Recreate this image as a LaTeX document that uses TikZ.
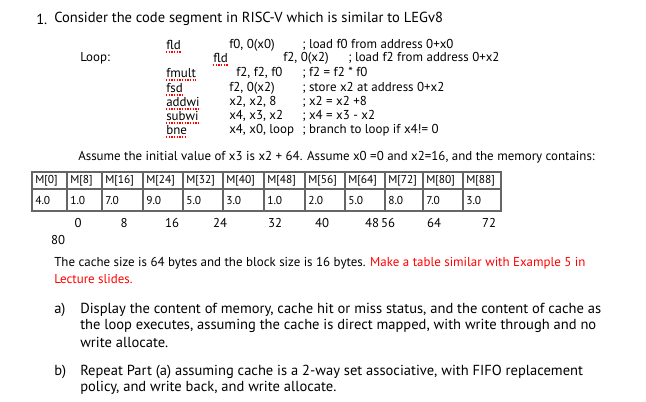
\documentclass[tikz,border=0pt]{standalone}
\usepackage{fontspec}
\setmainfont{PT Sans}
\begin{document}
\begin{tikzpicture}[x=0.75pt,y=-0.75pt,
  t/.style={anchor=west,inner sep=0pt,font=\fontsize{10.9pt}{12pt}\selectfont},
  k/.style={anchor=west,inner sep=0pt,font=\fontsize{9.7pt}{11pt}\selectfont},
  tt/.style={anchor=west,inner sep=0pt,font=\fontsize{8.6pt}{10pt}\selectfont},
  c/.style={anchor=center,inner sep=0pt,font=\fontsize{9.6pt}{11pt}\selectfont},
  sq/.style={red,densely dotted,line width=1pt}]
\useasboundingbox (0,0) rectangle (646,401);
\node[t] (n1) at (36,19) {1.};
\node[t] (h) at (54,19) {Consider the code segment in RISC-V which is similar to LEGv8};
\node[k] (loop) at (80,58) {Loop:};
% code
\node[k] (i1) at (166,45) {fld}; \node[k] (a1) at (229,45) {f0, 0(x0)}; \node[k] (c1) at (302,45) {; load f0 from address 0+x0};
\node[k] (i2) at (213,58) {fld}; \node[k] (a2) at (283,58) {f2, 0(x2)}; \node[k] (c2) at (348,58) {; load f2 from address 0+x2};
\node[k] (i3) at (166,73) {fmult}; \node[k] (a3) at (236,73) {f2, f2, f0}; \node[k] (c3) at (302,73) {; f2 = f2 * f0};
\node[k] (i4) at (166,88) {fsd}; \node[k] (a4) at (229,88) {f2, 0(x2)}; \node[k] (c4) at (302,88) {; store x2 at address 0+x2};
\node[k] (i5) at (166,102) {addwi}; \node[k] (a5) at (229,102) {x2, x2, 8}; \node[k] (c5) at (302,102) {; x2 = x2 +8};
\node[k] (i6) at (166,116) {subwi}; \node[k] (a6) at (229,116) {x4, x3, x2}; \node[k] (c6) at (302,116) {; x4 = x3 - x2};
\node[k] (i7) at (166,130) {bne}; \node[k] (a7) at (229,130) {x4, x0, loop}; \node[k] (c7) at (302,130) {; branch to loop if x4!= 0};
\foreach \n in {i1,i2,i3,i4,i5,i6,i7}{\draw[sq] ([yshift=-1.5pt]\n.south west) -- ([yshift=-1.5pt]\n.south east);}
\node[k] (as) at (78,157) {Assume the initial value of x3 is x2 + 64. Assume x0 =0 and x2=16, and the memory contains:};
% table
\draw[gray!80!black,line width=0.8pt] (32,172) rectangle (501,211);
\draw[gray!80!black,line width=0.8pt] (32,189) -- (501,189);
\foreach \x in {67,102,143,183,223,264,305,345,385,423,463}{\draw[gray!80!black,line width=0.8pt] (\x,172) -- (\x,211);}
\foreach \x/\m/\v [count=\i] in {32/0/4.0,67/8/1.0,102/16/7.0,143/24/9.0,183/32/5.0,223/40/3.0,264/48/1.0,305/56/2.0,345/64/5.0,385/72/8.0,423/80/7.0,463/88/3.0}{
  \node[tt] (m\i) at (\x+3,180.5) {M[\m]};
  \node[tt] (v\i) at (\x+3,200) {\v};}
\foreach \x/\l [count=\i] in {78/0,124/8,172/16,220/24,275/32,322/40,372/48,388/56,434/64,489/72}{\node[c] (l\i) at (\x,223) {\l};}
\node[c] (l80) at (58,240) {80};
\node[k] (cs) at (54,263) {The cache size is 64 bytes and the block size is 16 bytes. \textcolor{red}{Make a table similar with Example 5 in}};
\node[k,red] (ls) at (54,279) {Lecture slides.};
\node[t] (qa) at (54,310) {a)};
\node[t] (qa1) at (80,310) {Display the content of memory, cache hit or miss status, and the content of cache as};
\node[t] (qa2) at (80,326) {the loop executes, assuming the cache is direct mapped, with write through and no};
\node[t] (qa3) at (80,342) {write allocate.};
\node[t] (qb) at (54,372) {b)};
\node[t] (qb1) at (80,372) {Repeat Part (a) assuming cache is a 2-way set associative, with FIFO replacement};
\node[t] (qb2) at (80,388) {policy, and write back, and write allocate.};
\end{tikzpicture}
\end{document}
